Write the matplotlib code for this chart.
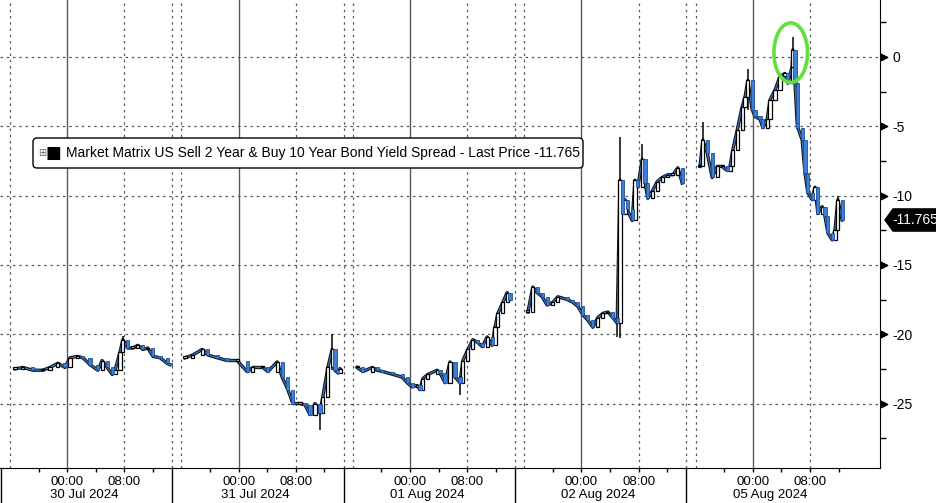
import matplotlib
matplotlib.use("Agg")
import matplotlib.pyplot as plt
import matplotlib.transforms as mtransforms
from matplotlib.patches import Ellipse, FancyBboxPatch, Polygon
import numpy as np

plt.rcParams['font.family'] = ['Liberation Sans', 'DejaVu Sans']
plt.rcParams['axes.unicode_minus'] = False

# trading days shown (weekend skipped), hours are relative to each day's 00:00
day_labels = ["30 Jul 2024", "31 Jul 2024", "01 Aug 2024", "02 Aug 2024", "05 Aug 2024"]

jul30_hours = [-7.3, -6.2, -4.8, -3.4, -2.4, -1.3, -0.3, 0.4, 1.4, 2.2, 3.2, 4.3, 4.9, 5.6,
               6.3, 6.7, 7.4, 7.8, 8.5, 9.2, 9.9, 10.6, 11.3, 12.0, 13.0, 14.0, 14.4]
jul30_vals = [-22.5, -22.4, -22.6, -22.6, -22.4, -22.1, -22.4, -21.7, -21.6, -21.7, -22.2, -22.6,
              -21.9, -22.4, -22.9, -22.6, -21.3, -20.4, -21.0, -21.0, -20.8, -21.1, -21.0, -21.6,
              -21.7, -22.1, -22.2]

jul31_hours = [-7.5, -6.4, -5.1, -4.3, -3.0, -1.6, -0.2, 1.2, 2.0, 3.4, 4.1, 5.4, 6.1, 6.9,
               7.6, 8.6, 9.3, 10.0, 10.7, 11.4, 11.8, 12.5, 13.1, 13.5, 13.9, 14.2]
jul31_vals = [-21.7, -21.5, -21.1, -21.5, -21.7, -21.9, -21.9, -22.7, -22.4, -22.4, -22.7, -22.0,
              -23.1, -24.0, -25.0, -25.0, -25.1, -25.8, -25.0, -25.7, -24.5, -22.4, -21.1, -22.6,
              -22.8, -22.5]

aug01_hours = [-7.4, -6.6, -5.3, -4.6, -3.8, -2.4, -1.1, -0.4, 0.3, 1.0, 1.4, 1.8, 2.5, 3.8,
               4.2, 4.9, 5.6, 6.3, 7.0, 7.4, 8.1, 8.8, 9.5, 10.1, 10.8, 11.5, 11.9, 12.3, 13.0,
               13.6, 14.0]
aug01_vals = [-22.4, -22.7, -22.4, -22.6, -22.7, -22.9, -23.1, -23.5, -23.8, -23.7, -24.0, -23.2,
              -22.9, -22.6, -22.8, -23.5, -22.0, -23.1, -23.5, -21.9, -21.1, -20.4, -20.6, -20.9,
              -20.2, -20.8, -19.5, -18.5, -17.7, -17.0, -17.5]

aug02_hours = [-7.5, -6.8, -6.2, -5.5, -4.8, -4.0, -3.3, -2.0, -1.2, -0.5, 0.2, 0.9, 1.6, 2.3,
               3.0, 3.7, 4.4, 5.0, 5.4, 5.7, 6.1, 6.4, 7.1, 7.5, 7.9, 8.5, 8.9, 9.3, 9.9, 10.6,
               11.3, 12.1, 12.8, 13.5, 14.1]
aug02_vals = [-18.4, -16.6, -17.0, -17.3, -17.9, -17.7, -17.3, -17.5, -17.7, -18.0, -18.6, -19.0,
              -19.5, -18.8, -18.5, -18.4, -18.8, -19.2, -8.9, -11.3, -10.3, -11.0, -11.8, -8.9,
              -9.4, -7.4, -9.1, -10.2, -9.7, -9.0, -8.7, -8.5, -8.5, -8.0, -9.1]

aug05_hours = [-7.4, -7.0, -6.4, -5.7, -5.0, -4.3, -3.6, -3.2, -2.8, -2.2, -1.5, -1.1, -0.7, -0.1,
               0.3, 1.0, 1.4, 2.0, 2.4, 3.1, 3.8, 4.5, 4.9, 5.5, 5.6, 5.9, 6.2, 6.3, 6.9, 7.3,
               7.7, 8.3, 8.7, 9.1, 9.7, 10.1, 10.5, 11.1, 11.5, 11.9, 12.5]
aug05_vals = [-7.9, -6.0, -6.9, -8.7, -7.9, -7.9, -8.2, -7.9, -6.7, -5.3, -3.6, -2.9, -1.7, -3.8,
              -4.3, -4.5, -5.1, -4.5, -3.1, -2.4, -1.4, -1.2, -1.9, -0.7, 0.5, -1.9, -4.8, -5.1,
              -6.0, -8.4, -9.8, -10.3, -9.4, -11.3, -10.8, -11.5, -12.7, -13.2, -12.5, -10.3,
              -11.765]

# intraday spikes (day index, hour, low, high)
wick_day = [0, 1, 1, 2, 3, 3, 3, 4, 4, 4, 4]
wick_hour = [7.8, 11.4, 13.1, 7.0, 5.0, 5.4, 8.5, -7.0, -0.7, 5.6, 11.9]
wick_low = [-21.3, -26.9, -22.6, -24.4, -20.2, -20.3, -9.1, -7.9, -3.8, -1.9, -12.5]
wick_high = [-20.1, -25.0, -20.0, -23.0, -18.8, -5.8, -6.3, -4.7, -0.9, 1.4, -10.0]

last_price = -11.765
y_major = [0, -5, -10, -15, -20, -25]
y_minor = [2.5, -2.5, -7.5, -12.5, -17.5, -22.5, -27.5]

days = [(jul30_hours, jul30_vals), (jul31_hours, jul31_vals), (aug01_hours, aug01_vals),
        (aug02_hours, aug02_vals), (aug05_hours, aug05_vals)]

BLUE = '#3b7fd6'
GRID = '#5a5a5a'
W, H = 937, 503

fig = plt.figure(figsize=(W / 100, H / 100), dpi=100)
ax = fig.add_axes([0, 35 / H, 880 / W, 468 / H])
ax.set_xlim(-9.4, 113.8)
ax.set_ylim(-29.65, 4.1)

# grid: solid at midnight, dotted at 08:00/16:00 and at session break
dot = (0, (2, 3))
for v in y_major:
    ax.axhline(v, color=GRID, lw=0.9, ls=dot, zorder=0)
ax.axvline(-8, color=GRID, lw=0.9, ls=dot, zorder=0)
for k in range(len(days)):
    base = 24 * k
    ax.axvline(base, color=GRID, lw=1.0, zorder=0)
    ax.axvline(base + 8, color=GRID, lw=0.9, ls=dot, zorder=0)
    if k < len(days) - 1:
        ax.axvline(base + 14.7, color=GRID, lw=0.9, ls=dot, zorder=0)
        ax.axvline(base + 16, color=GRID, lw=0.9, ls=dot, zorder=0)

# candles on top of a dark close line
for k, (hrs, vals) in enumerate(days):
    t = 24 * k + np.array(hrs)
    c = np.array(vals)
    o = np.r_[c[0], c[:-1]]
    ax.plot(t, c, color='#141414', lw=2.4, zorder=2)
    ax.plot(t, c, color=BLUE, lw=0.9, zorder=2.2, alpha=0.9)
    up = c >= o
    bottom = np.minimum(o, c)
    height = np.maximum(np.abs(c - o), 0.12)
    w = 0.45
    ax.bar(t[up], height[up], w, bottom[up], facecolor='white', edgecolor='black',
           lw=0.9, zorder=3)
    ax.bar(t[~up], height[~up], w, bottom[~up], facecolor=BLUE, edgecolor='#1d4e98',
           lw=0.6, zorder=3)

wx = 24 * np.array(wick_day) + np.array(wick_hour)
ax.vlines(wx, wick_low, wick_high, color='black', lw=1.1, zorder=2.5)

# green highlight
ax.add_patch(Ellipse((24 * 4 + 5.3, 0.3), 4.7, 4.3, fill=False, ec='#5fe03a', lw=2.6, zorder=6))

# axes styling
for s in ['left', 'top']:
    ax.spines[s].set_visible(False)
ax.spines['right'].set_color('black')
ax.spines['bottom'].set_color('black')

ax.yaxis.tick_right()
ax.set_yticks(y_major)
ax.set_yticklabels([str(v) for v in y_major])
ax.set_yticks(y_minor, minor=True)
ax.tick_params(axis='y', which='major', length=0, pad=9, labelsize=10)
ax.tick_params(axis='y', which='minor', length=4, width=1, direction='out')
tri = mtransforms.blended_transform_factory(ax.transAxes, ax.transData) + \
    mtransforms.ScaledTranslation(4 / 100, 0, fig.dpi_scale_trans)
ax.scatter([1.0] * len(y_major), y_major, marker='>', s=22, color='black',
           transform=tri, clip_on=False, zorder=7)

xmaj, xlab, xmin = [], [], []
for k in range(len(days)):
    xmaj += [24 * k, 24 * k + 8]
    xlab += ['00:00', '08:00']
    xmin += [24 * k - 4, 24 * k + 4, 24 * k + 12]
ax.set_xticks(xmaj)
ax.set_xticklabels(xlab)
ax.set_xticks(xmin, minor=True)
ax.tick_params(axis='x', which='both', length=3, width=1, direction='out', pad=3, labelsize=9.5)

bx = mtransforms.blended_transform_factory(ax.transData, ax.transAxes)
for k, lab in enumerate(day_labels):
    ax.text(24 * k + 2.4, -27 / 468, lab, transform=bx, ha='center', va='center', fontsize=9.5)
for s in [-9.3, 14.7, 38.7, 62.7, 86.7]:
    ax.plot([s, s], [0, -35 / 468], transform=bx, color='black', lw=1, clip_on=False)

# last price tag: x in pixels, y in data
tag = mtransforms.blended_transform_factory(mtransforms.IdentityTransform(), ax.transData)
hh = 0.8
fig.patches.append(Polygon([(885, last_price), (893, last_price + hh), (937, last_price + hh),
                            (937, last_price - hh), (893, last_price - hh)],
                           closed=True, transform=tag, fc='black', ec='black', zorder=8))
fig.text(915 / W, 1 - 220 / H, f'{last_price:.3f}', color='white', fontsize=10,
         ha='center', va='center', zorder=9)

# legend box
ident = mtransforms.IdentityTransform()
fig.patches.append(FancyBboxPatch((33, H - 168), 550, 30, boxstyle='round,pad=0,rounding_size=4',
                                  transform=ident, fc='white', ec='black', lw=1, zorder=8))
fig.text(42 / W, 1 - 153 / H, '\u229e', color='#666666', fontsize=7, ha='center', va='center',
         family='DejaVu Sans', zorder=9)
fig.text(53 / W, 1 - 153 / H, '\u25a0', color='black', fontsize=12, ha='center', va='center',
         family='DejaVu Sans', zorder=9)
fig.text(66 / W, 1 - 153 / H,
         'Market Matrix US Sell 2 Year & Buy 10 Year Bond Yield Spread - Last Price -11.765',
         fontsize=10, ha='left', va='center', zorder=9)

fig.savefig('out.png', dpi=100)
